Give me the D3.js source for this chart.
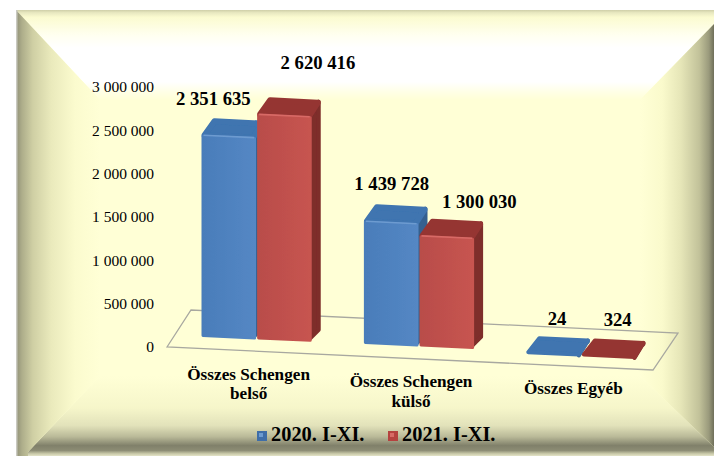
<!DOCTYPE html>
<html><head><meta charset="utf-8">
<script src="https://cdn.jsdelivr.net/npm/d3@7"></script>
<style>html,body{margin:0;padding:0;background:#fff}svg{display:block}text{font-family:"Liberation Serif",serif;fill:#000}</style>
</head><body><svg id="c" width="714" height="456"></svg>
<script>
const categories=[["Összes Schengen","belső"],["Összes Schengen","külső"],["Összes Egyéb"]];
const seriesNames=["2020. I-XI.","2021. I-XI."];
const values2020=[2351635,1439728,24];
const values2021=[2620416,1300030,324];
const tickValues=[0,500000,1000000,1500000,2000000,2500000,3000000];

const svg=d3.select("#c");
const defs=svg.append("defs");
function grad(id,x1,y1,x2,y2,stops){
  const g=defs.append("linearGradient").attr("id",id).attr("gradientUnits","userSpaceOnUse")
    .attr("x1",x1).attr("y1",y1).attr("x2",x2).attr("y2",y2);
  stops.forEach(s=>g.append("stop").attr("offset",s[0]).attr("stop-color",s[1]));
}
const F="#ffffd6";
const panel={l:16,t:10,r:714,b:456,il:100,it:100,ir:640,ib:376};
const {l,t,r,b,il,it,ir,ib}=panel;
grad("gt",0,t,0,it,[[0,"#cfcfa8"],[.03,"#e8e8c0"],[.08,"#fbfbd0"],[.28,"#fffff0"],[.42,"#ffffff"],[.8,"#ffffff"],[.9,"#ffffe8"],[1,F]]);
grad("gl",l,0,il,0,[[0,"#8f8f76"],[.07,"#adad8a"],[.2,"#cfcfa4"],[.42,"#eaeabc"],[.7,"#fbfbce"],[1,F]]);
grad("gr",ir,0,r,0,[[0,F],[.3,"#fafacc"],[.55,"#e6e6b8"],[.8,"#c2c29a"],[.93,"#9a9a7c"],[1,"#6f6f5a"]]);
grad("gb",0,ib,0,b,[[0,F],[.4,"#f6f6ca"],[.62,"#e2e2ba"],[.76,"#b9b998"],[.87,"#80806a"],[.93,"#8c8c74"],[.97,"#c8c8a8"],[1,"#e4e4c8"]]);
svg.append("rect").attr("x",l).attr("y",t).attr("width",r-l).attr("height",b-t).attr("fill",F);
const poly=(pts,fill)=>svg.append("polygon").attr("points",pts.map(p=>p.join(",")).join(" ")).attr("fill",fill);
poly([[l,t],[r,t],[r,t+14],[ir,it],[il,it]],"url(#gt)");
poly([[28,452],[28,b],[r,b],[r,b-9],[ir,ib],[il,ib]],"url(#gb)");
poly([[l,t],[il,it],[il,ib],[28,452],[28,b],[l,b]],"url(#gl)");
poly([[r,t+14],[ir,it],[ir,ib],[r,b-9]],"url(#gr)");
svg.append("rect").attr("x",l).attr("y",t).attr("width",1.5).attr("height",b-t).attr("fill","#c9c9c0");

// scales
const y=d3.scaleLinear().domain([0,3000000]).range([347,87]);
const x0=d3.scaleBand().domain(d3.range(categories.length)).range([201,637]).paddingInner(.315);
const x1=d3.scaleBand().domain(d3.range(seriesNames.length)).range([0,x0.bandwidth()]);
const base=d3.scaleLinear().domain([201,637]).range([337,356]);
const dx=9,dy=-15;

svg.append("polygon").attr("points","167,347 191,310 678,333 653,370")
  .attr("fill","none").attr("stroke","#a8a8a0").attr("stroke-width",1.3);

const fmt=d=>d3.format(",")(d).replace(/,/g," ");
const gy=svg.append("g").attr("transform","translate(154,0)")
  .call(d3.axisLeft(y).tickValues(tickValues).tickSize(0).tickPadding(0).tickFormat(fmt));
gy.select(".domain").remove();
gy.selectAll("text").style("font-family",'"Liberation Serif",serif').style("font-size","15.5px").attr("fill","#000");

const pal=[{f0:"#4a7dba",f1:"#5487c4",top:"#3f74b0",side:"#35608f",edge:"#6d9bd0"},
           {f0:"#b94d4a",f1:"#c75450",top:"#953533",side:"#7e2d2b",edge:"#d86a66"}];
defs.append("filter").attr("id","soft").append("feGaussianBlur").attr("stdDeviation",.6);
pal.forEach((p,i)=>{const g=defs.append("linearGradient").attr("id","f"+i);
  g.append("stop").attr("offset",0).attr("stop-color",p.f0);g.append("stop").attr("offset",1).attr("stop-color",p.f1);});
const series=[values2020,values2021];
const gBars=svg.append("g").attr("filter","url(#soft)");
const labelOff=[[[-16,-29],[33,-44.5]],[[0,-30.5],[32,-27]],[[3,-27],[8,-29]]];
const h=v=>y(0)-y(v);
series.forEach((vals,s)=>{
  vals.forEach((v,c)=>{
    const xa=x0(c)+x1(s)+.5, xb=xa+x1.bandwidth()-1;
    const ba=base(xa), bb=base(xb), ht=h(v);
    const p=pal[s];
    const sw=ht>3?6:4, ins=sw/2;
    const shape=(pts,fill,w)=>gBars.append("path").attr("d",d3.line()(pts)+"Z").attr("fill",fill).attr("stroke",fill)
      .attr("stroke-width",w).attr("stroke-linejoin","round");
    shape([[xb-2,bb-ht+2],[xb+dx-2,bb-ht+dy+2],[xb+dx-2,bb+dy+3],[xb-2,bb-3]],p.side,4);
    shape([[xa+ins,ba-ht+ins-1],[xa+dx+4,ba-ht+dy+ins],[xb+dx-ins,bb-ht+dy+ins],[xb-ins,bb-ht+ins-1]],p.top,sw);
    if(ht>3){
      shape([[xa+1.5,ba-ht+3],[xb-1.5,bb-ht+3],[xb-1.5,bb-1.5],[xa+1.5,ba-1.5]],`url(#f${s})`,3);
      gBars.append("path").attr("d",d3.line()([[xa+2,ba-ht+2],[xb-2,bb-ht+2]])).attr("stroke",p.edge)
        .attr("stroke-width",1.6).attr("fill","none");
    }
    const cx=xa+x1.bandwidth()/2;
    svg.append("text").attr("x",cx+labelOff[c][s][0]).attr("y",base(cx)-ht+labelOff[c][s][1])
      .attr("text-anchor","middle").attr("font-weight","bold").attr("font-size",18.7).text(fmt(v));
  });
});

categories.forEach((lines,c)=>{
  const cx=x0(c)+x0.bandwidth()/2;
  lines.forEach((ln,i)=>svg.append("text").attr("x",cx-8).attr("y",base(cx)+40.5+i*19.5)
    .attr("text-anchor","middle").attr("font-weight","bold").attr("font-size",17.2).text(ln));
});

const legX=[257,388];
seriesNames.forEach((n,i)=>{
  const g=svg.append("g").attr("transform",`translate(${legX[i]},431)`);
  g.append("rect").attr("width",10).attr("height",10).attr("fill",i?"#b5423f":"#3f6ea8");
  g.append("rect").attr("x",2).attr("y",2).attr("width",4).attr("height",4).attr("fill",i?"#d86a66":"#6d9bd0");
  g.append("text").attr("x",14).attr("y",10).attr("font-weight","bold").attr("font-size",20.4).text(n);
});
</script></body></html>
